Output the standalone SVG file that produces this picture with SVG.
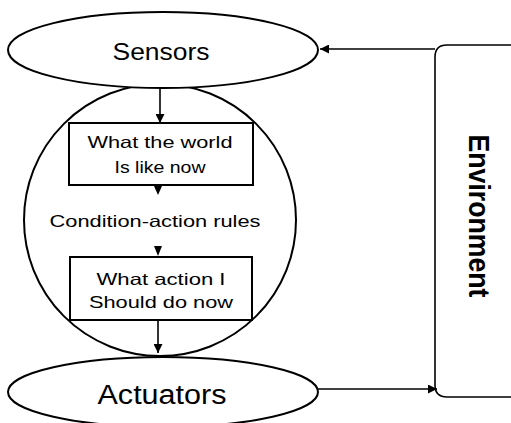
<svg xmlns="http://www.w3.org/2000/svg" width="511" height="423" viewBox="0 0 511 423">
  <style>
    .shape { fill: #ffffff; stroke: #000000; stroke-width: 2; }
    .line { fill: none; stroke: #000000; stroke-width: 1.6; }
    .label { font-family: "Liberation Sans", "DejaVu Sans", sans-serif; fill: #000000; text-anchor: middle; }
    .small { font-size: 16.5px; }
  </style>
  <defs>
    <marker id="arrow" viewBox="0 0 10 10" refX="10" refY="5" markerWidth="9" markerHeight="9" markerUnits="userSpaceOnUse" orient="auto">
      <path d="M0,0 L10,5 L0,10 Z" fill="#000000"/>
    </marker>
  </defs>

  <!-- agent body -->
  <g id="agent">
    <circle class="shape" cx="160" cy="220" r="136"/>
  </g>

  <g id="sensors">
    <ellipse class="shape" cx="163" cy="50" rx="155" ry="38"/>
    <text class="label" x="161" y="60" font-size="24" textLength="97" lengthAdjust="spacingAndGlyphs">Sensors</text>
  </g>

  <g id="actuators">
    <ellipse class="shape" cx="163" cy="392" rx="155" ry="35"/>
    <text class="label" x="162" y="404" font-size="27" textLength="129" lengthAdjust="spacingAndGlyphs">Actuators</text>
  </g>

  <g id="world-state">
    <rect class="shape" x="69" y="123" width="184" height="62"/>
    <text class="label small" x="160" y="148" textLength="145" lengthAdjust="spacingAndGlyphs">What the world</text>
    <text class="label small" x="160" y="173" textLength="91" lengthAdjust="spacingAndGlyphs">Is like now</text>
  </g>

  <g id="rules">
    <text class="label small" x="155" y="227" textLength="211" lengthAdjust="spacingAndGlyphs">Condition-action rules</text>
  </g>

  <g id="action">
    <rect class="shape" x="70" y="257" width="182" height="63"/>
    <text class="label small" x="161" y="285" textLength="129" lengthAdjust="spacingAndGlyphs">What action I</text>
    <text class="label small" x="161" y="308" textLength="144" lengthAdjust="spacingAndGlyphs">Should do now</text>
  </g>

  <g id="environment">
    <path class="line" stroke-width="2" d="M520,45 H447 Q435,45 435,57 V385 Q435,397 447,397 H520"/>
    <text class="label" transform="translate(469,216) rotate(90)" font-size="30" font-weight="bold" textLength="163" lengthAdjust="spacingAndGlyphs">Environment</text>
  </g>

  <!-- connectors -->
  <g id="connectors">
    <line class="line" x1="160" y1="89" x2="160" y2="123" marker-end="url(#arrow)"/>
    <path d="M154,186 L162,186 L158,195 Z" fill="#000000"/>
    <path d="M154,246 L162,246 L158,256 Z" fill="#000000"/>
    <line class="line" x1="158" y1="320" x2="158" y2="353" marker-end="url(#arrow)"/>
    <line class="line" x1="435" y1="49" x2="320" y2="49" marker-end="url(#arrow)"/>
    <line class="line" x1="318" y1="389" x2="437" y2="389" marker-end="url(#arrow)"/>
  </g>
</svg>
